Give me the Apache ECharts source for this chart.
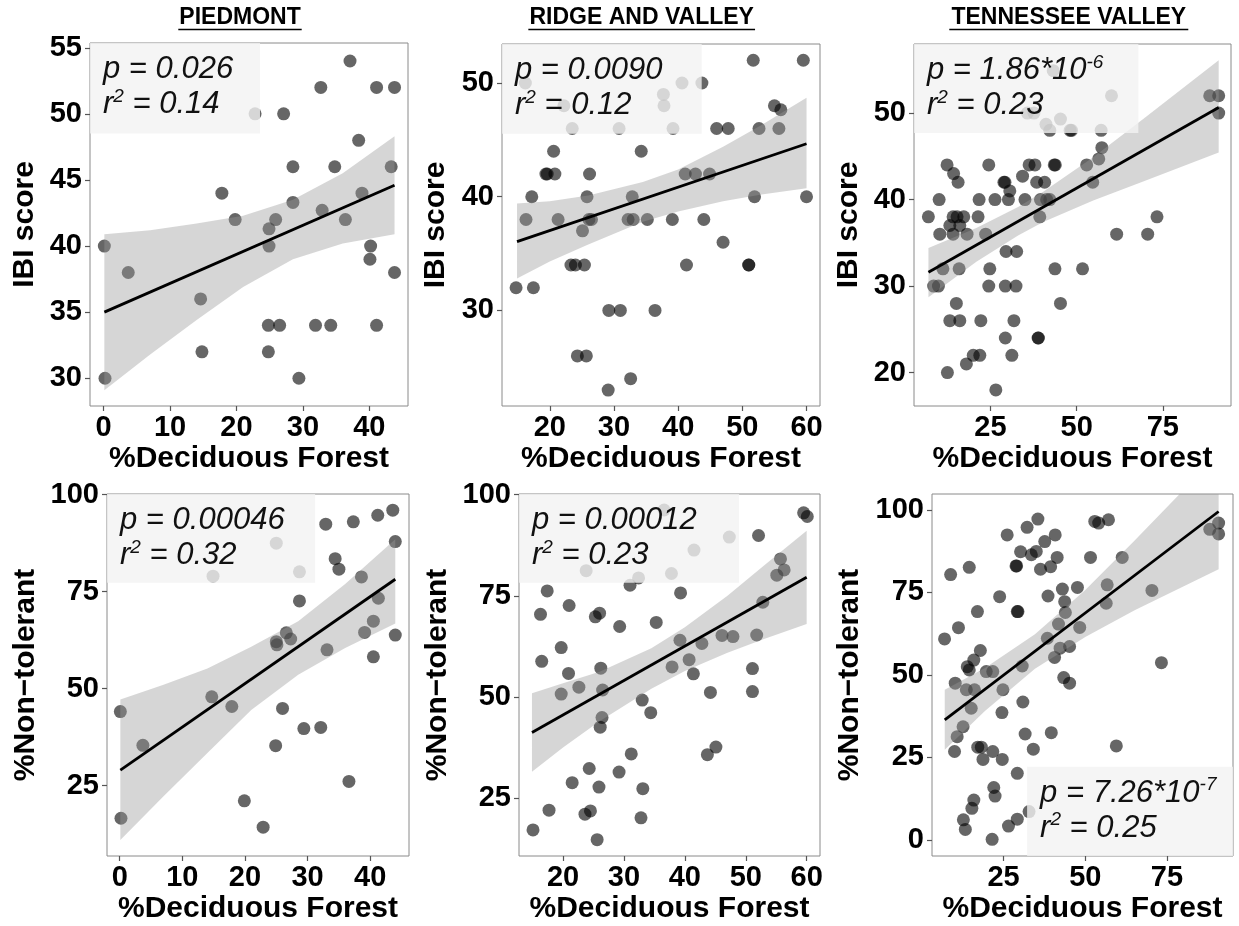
<!DOCTYPE html>
<html>
<head>
<meta charset="utf-8">
<script src="https://cdn.jsdelivr.net/npm/echarts@6/dist/echarts.min.js"></script>
<style>
  html, body { margin: 0; padding: 0; background: #fff; }
  #main { width: 1239px; height: 926px; }
</style>
</head>
<body>
<div id="main"></div>
<script>
// ---- data: [ %Deciduous Forest, response ] ----
var piedmontIbi = [[0.1,40],[0.2,30],[3.7,38],[14.6,36],[14.8,32],[17.8,44],[19.8,42],[22.8,50],[24.9,41.3],[24.9,40],
  [24.8,34],[24.8,32],[25.9,42],[26.5,34],[27.1,50],[28.5,46],[28.5,43.3],[29.4,30],[31.9,34],[32.7,52],[32.9,42.7],
  [34.2,34],[34.8,46],[36.4,42],[37.1,54],[38.4,48],[38.9,44],[40.2,40],[40.1,39],[41.1,52],[41.1,34],[43.3,46],
  [43.8,52],[43.8,38]];
var ridgeIbi = [[14.75,32],[16.2,50],[16.3,38],[17.2,40],[17.45,32],[19.4,42],[19.6,42],[20.8,42],[20.6,44],[21.3,38],
  [22.2,48],[23.5,46],[23.3,34],[24.0,34],[24.3,26],[25.1,37],[25.4,34],[25.7,26],[25.8,40],[26.1,38],[26.5,38],
  [26.2,42],[29.1,23],[29.2,30],[31.0,30],[30.8,46],[32.2,38],[32.6,24],[32.85,40],[33.0,38],[34.25,44],[35.2,38],
  [36.4,30],[37.7,49],[37.8,48],[39.1,38],[39.2,46],[40.6,50],[41.1,42],[41.3,34],[42.7,42],[43.7,50],[44.0,38],
  [44.9,42],[46.0,46],[47.0,36],[47.8,46],[51.0,34],[51.0,34],[51.7,52],[51.9,40],[52.6,46],[55.0,48],[55.7,46],
  [56.0,47.65],[59.5,52],[60.0,40]];
var tennIbi = [[6.98,38],[10.1,40],[12.4,44],[14.3,43],[15.6,42],[14.15,38],[15.3,38],[17.25,38],[13.2,37],[16.1,37],
  [10.3,36],[14.15,36],[18.2,36],[21.4,38],[21.7,40],[24.5,44],[23.6,36],[11.2,32],[15.9,32],[8.5,30],[9.9,30],
  [15.1,28],[13.2,26],[16.1,26],[22.2,26],[24.8,32],[24.5,30],[12.5,20],[18.0,21],[20.0,22],[21.9,22],[26.55,18],
  [26.3,40],[28.9,42],[29.2,42],[30.6,41],[30.2,40],[29.5,34],[32.6,34],[29.3,30],[32.4,30],[29.3,24],[31.8,26],
  [31.2,22],[34.3,42.7],[35.0,40],[36.2,44],[37.9,44],[38.4,42],[40.7,42],[39.3,38],[39.5,40],[41.3,40],[42.2,40],
  [43.5,44],[43.8,44],[43.7,32],[45.3,28],[38.8,24],[38.9,24],[43.2,54.9],[41.1,48.7],[42.2,48],[45.3,49.3],
  [48.1,48],[48.5,48],[35.7,50],[37.6,50],[51.7,32],[52.9,44],[54.65,42],[56.4,44.7],[57.3,46],[57.1,48],[60.1,52],
  [61.6,36],[70.6,36],[73.3,38],[88.6,52],[91.2,52],[91.2,50]];
var piedmontNt = [[0.1,44.1],[0.2,16.6],[3.7,35.4],[14.9,79.0],[14.7,47.9],[17.9,45.4],[19.9,21.1],[22.9,14.3],
  [25.0,87.5],[25.0,62.1],[25.1,61.3],[26.6,64.4],[27.3,62.8],[24.9,35.3],[26.0,44.9],[28.7,80.1],[28.7,72.6],
  [29.4,39.7],[32.1,40.0],[32.9,92.4],[33.1,60.0],[34.4,83.5],[35.0,80.8],[36.6,26.1],[37.3,93.0],[38.6,78.8],
  [39.1,64.5],[40.5,58.2],[40.5,67.4],[41.3,73.3],[41.2,94.7],[43.6,96.0],[44.0,87.9],[44.0,63.8]];
var ridgeNt = [[15.07,17.1],[16.3,70.4],[16.5,58.8],[17.4,76.2],[17.7,22.0],[19.7,62.2],[19.7,50.7],[20.9,55.8],
  [21.0,72.6],[21.5,28.8],[22.6,52.4],[23.8,81.2],[24.3,32.3],[23.6,21.0],[24.5,21.8],[25.3,69.8],[26.0,70.7],
  [25.6,14.7],[25.9,27.7],[26.2,57.1],[26.5,51.7],[26.4,44.9],[26.1,42.5],[29.3,67.4],[29.2,31.4],[31.0,77.6],
  [31.2,35.9],[32.4,79.4],[33.0,49.2],[33.1,27.3],[32.8,20.1],[34.4,46.1],[35.3,68.4],[36.6,96.2],[37.8,80.5],
  [37.9,57.4],[39.2,64.0],[39.3,75.7],[40.7,59.2],[41.4,55.7],[41.5,86.3],[42.8,63.2],[43.7,35.7],[44.2,51.1],
  [45.1,37.6],[46.1,65.2],[47.3,89.5],[47.9,64.9],[51.1,57.0],[51.1,51.3],[52.1,89.9],[51.8,65.3],[52.8,73.4],
  [55.1,80.1],[55.7,84.1],[56.3,81.4],[59.5,95.5],[60.1,94.6]];
var tennNt = [[6.94,60.9],[8.8,80.4],[11.2,64.3],[14.5,82.6],[10.2,47.5],[13.9,52.5],[15.9,54.5],[14.5,51.5],
  [17.9,57.4],[17.0,69.2],[13.6,45.5],[16.1,45.5],[15.1,39.9],[12.6,34.3],[10.8,31.3],[10.0,26.8],[17.1,28.1],
  [18.2,28.1],[18.7,24.4],[21.7,26.8],[24.6,24.4],[19.7,51.0],[21.7,51.0],[23.8,73.7],[24.8,45.5],[24.5,38.6],
  [29.2,20.2],[22.0,15.9],[22.4,13.3],[15.9,12.1],[15.3,9.6],[12.7,6.1],[13.3,3.2],[21.5,0.2],[26.5,4.2],[29.2,6.3],
  [32.8,8.6],[30.9,41.8],[31.6,32.1],[34.1,27.5],[39.6,32.5],[26.1,92.4],[32.2,94.7],[35.5,97.2],[30.2,87.3],
  [33.5,86.4],[35.0,87.4],[37.6,90.4],[40.8,92.4],[28.8,83.0],[29.0,83.0],[36.3,82.0],[39.4,82.8],[41.4,85.6],
  [29.2,69.2],[29.4,69.2],[38.6,73.9],[43.0,76.0],[43.7,72.2],[47.6,76.5],[43.9,68.9],[41.8,65.4],[38.4,61.1],
  [40.6,55.3],[42.3,58.1],[45.2,58.6],[43.4,49.2],[45.2,47.5],[48.3,64.4],[30.7,52.7],[51.6,85.6],[52.9,96.5],
  [54.1,96.0],[57.1,97.0],[56.7,77.3],[56.4,71.7],[61.3,85.6],[59.5,28.5],[70.4,75.6],[73.3,53.7],[88.1,94.1],
  [90.8,96.0],[90.8,92.7]];

// fitted lines (ends) and confidence bands [x, lower, upper]
var piedmontIbiFit = [[0.1,35.0],[43.8,44.6]];
var piedmontIbiBand = [[0.1,29.1,40.9],[7,31.8,41.2],[14,34.4,41.7],[21,36.9,42.3],[28.5,39.0,43.5],[36,40.2,45.5],[43.8,40.9,48.3]];
var ridgeIbiFit = [[14.9,36.05],[60,44.66]];
var ridgeIbiBand = [[14.9,32.8,39.4],[20,34.3,39.6],[26,35.8,40.1],[34.5,37.8,41.3],[40,38.7,42.4],[47,39.6,44.4],[53,40.2,46.3],[60,40.75,48.7]];
var tennIbiFit = [[7.0,31.6],[91.2,50.65]];
var tennIbiBand = [[7.0,28.7,34.4],[20.9,32.8,36.7],[33,35.85,39.15],[40.3,37.4,40.9],[54.8,39.9,44.9],[69.3,42.1,49.3],[91.2,45.45,56.1]];
var piedmontNtFit = [[0.1,29.0],[44.0,78.2]];
var piedmontNtBand = [[0.1,11.0,47.2],[7,22.3,51.0],[14,33.4,55.2],[21,44.5,60.8],[28.5,53.6,67.4],[36,60.5,77.0],[44,66.8,88.5]];
var ridgeNtFit = [[14.9,41.2],[60,79.6]];
var ridgeNtBand = [[14.9,31.5,50.9],[20,37.5,53.4],[26,44.0,56.2],[34.5,52.0,62.0],[40,56.4,67.2],[47,60.9,75.0],[53,64.3,82.5],[60,68.0,91.1]];
var tennNtFit = [[7.0,36.4],[90.8,99.5]];
var tennNtBand = [[7.0,27.3,45.5],[19.3,39.1,52.1],[34.6,51.9,62.3],[50,61.5,75.7],[65.1,69.6,90.7],[90.8,82.0,117]];

// tick labels
var piedmontXTicks = [0, 10, 20, 30, 40];
var ridgeXTicks = [20, 30, 40, 50, 60];
var tennXTicks = [25, 50, 75];
var piedmontIbiTicks = [30, 35, 40, 45, 50, 55];
var ridgeIbiTicks = [30, 40, 50];
var tennIbiTicks = [20, 30, 40, 50];
var ntTicksA = [25, 50, 75, 100];
var ntTicksB = [0, 25, 50, 75, 100];

var regionTitles = ['PIEDMONT', 'RIDGE AND VALLEY', 'TENNESSEE VALLEY'];
var statText = [
  ['p = 0.026', '0.14'], ['p = 0.0090', '0.12'], ['p = 1.86*10', '0.23', '-6'],
  ['p = 0.00046', '0.32'], ['p = 0.00012', '0.23'], ['p = 7.26*10', '0.25', '-7']
];

var FONT = '"Liberation Sans", Arial, Helvetica, sans-serif';

var panels = [
  { grid: {left: 90, top: 43, width: 318, height: 363}, x: [-2.06, 45.83], y: [27.9, 55.36],
    xt: piedmontXTicks, yt: piedmontIbiTicks, yName: 'IBI score', yGap: 50,
    pts: piedmontIbi, fit: piedmontIbiFit, band: piedmontIbiBand, box: [-2.06, 48.52, 23.54, 55.36] },
  { grid: {left: 502, top: 44, width: 318, height: 362}, x: [12.56, 62.1], y: [21.6, 53.43],
    xt: ridgeXTicks, yt: ridgeIbiTicks, yName: 'IBI score', yGap: 51,
    pts: ridgeIbi, fit: ridgeIbiFit, band: ridgeIbiBand, box: [12.56, 45.54, 43.67, 53.43] },
  { grid: {left: 914, top: 44, width: 317, height: 362}, x: [2.81, 94.77], y: [16.14, 57.98],
    xt: tennXTicks, yt: tennIbiTicks, yName: 'IBI score', yGap: 50,
    pts: tennIbi, fit: tennIbiFit, band: tennIbiBand, box: [2.81, 47.7, 67.9, 57.98] },
  { grid: {left: 107, top: 494, width: 302, height: 362}, x: [-2.03, 46.19], y: [6.87, 100.17],
    xt: piedmontXTicks, yt: ntTicksA, yName: '%Non\u2212tolerant', yGap: 66,
    pts: piedmontNt, fit: piedmontNtFit, band: piedmontNtBand, box: [-2.03, 77.3, 31.2, 100.17] },
  { grid: {left: 519, top: 494, width: 301, height: 362}, x: [12.77, 62.19], y: [10.66, 100.16],
    xt: ridgeXTicks, yt: ntTicksA, yName: '%Non\u2212tolerant', yGap: 66,
    pts: ridgeNt, fit: ridgeNtFit, band: ridgeNtBand, box: [12.77, 78.2, 48.9, 100.16] },
  { grid: {left: 932, top: 494, width: 301, height: 362}, x: [3.1, 95.2], y: [-4.85, 104.8],
    xt: tennXTicks, yt: ntTicksB, yName: '%Non\u2212tolerant', yGap: 67,
    pts: tennNt, fit: tennNtFit, band: tennNtBand, box: [32.2, -4.85, 95.2, 22.2] }
];

var grids = [], xAxes = [], yAxes = [], series = [];

panels.forEach(function (p, i) {
  grids.push(Object.assign({ show: true, borderColor: '#8a8a8a', borderWidth: 1, backgroundColor: '#fff' }, p.grid));

  xAxes.push({
    gridIndex: i, type: 'value', min: p.x[0], max: p.x[1],
    name: '%Deciduous Forest', nameLocation: 'middle', nameGap: 38,
    nameTextStyle: { fontFamily: FONT, fontWeight: 'bold', fontSize: 30, color: '#000' },
    axisLine: { show: false, onZero: false },
    splitLine: { show: false },
    axisTick: { show: true, length: 5, lineStyle: { color: '#555', width: 1.2 }, customValues: p.xt },
    axisLabel: { customValues: p.xt, fontFamily: FONT, fontWeight: 'bold', fontSize: 29, color: '#000', margin: 7 }
  });
  yAxes.push({
    gridIndex: i, type: 'value', min: p.y[0], max: p.y[1],
    name: p.yName, nameLocation: 'middle', nameGap: p.yGap,
    nameTextStyle: { fontFamily: FONT, fontWeight: 'bold', fontSize: 30, color: '#000' },
    axisLine: { show: false, onZero: false },
    splitLine: { show: false },
    axisTick: { show: true, length: 5, lineStyle: { color: '#555', width: 1.2 }, customValues: p.yt },
    axisLabel: { customValues: p.yt, fontFamily: FONT, fontWeight: 'bold', fontSize: 29, color: '#000', margin: 8 }
  });

  // points
  series.push({
    type: 'scatter', xAxisIndex: i, yAxisIndex: i, data: p.pts, symbolSize: 13, z: 2, silent: true,
    itemStyle: { color: 'rgba(0,0,0,0.75)' }
  });

  // confidence band, drawn over the points
  var band = p.band;
  series.push({
    type: 'custom', xAxisIndex: i, yAxisIndex: i, data: band, z: 3, silent: true, clip: true,
    encode: { x: 0, y: [1, 2] },
    renderItem: function (params, api) {
      if (params.dataIndex !== 0) return;
      var up = band.map(function (d) { return api.coord([d[0], d[2]]); });
      var lo = band.map(function (d) { return api.coord([d[0], d[1]]); }).reverse();
      return { type: 'polygon', shape: { points: up.concat(lo) }, style: { fill: 'rgba(153,153,153,0.4)' } };
    }
  });

  // fitted line
  series.push({
    type: 'line', xAxisIndex: i, yAxisIndex: i, data: p.fit, symbol: 'none', z: 4, silent: true,
    lineStyle: { color: '#000', width: 2.8 }
  });

  // stats box
  var st = statText[i];
  var first = st[2] ? '{a|' + st[0] + '}{s|' + st[2] + '}' : '{a|' + st[0] + '}';
  series.push({
    type: 'line', xAxisIndex: i, yAxisIndex: i, data: [], silent: true,
    markArea: {
      z: 10, silent: true,
      itemStyle: { color: 'rgba(242,242,242,0.8)', borderWidth: 0 },
      label: {
        show: true, position: 'insideTopLeft', distance: 0, offset: [13, 9],
        formatter: first + '\n{a|r}{s|2}{a| = ' + st[1] + '}',
        rich: {
          a: { fontFamily: FONT, fontStyle: 'italic', fontSize: 31, color: '#111', lineHeight: 35 },
          s: { fontFamily: FONT, fontStyle: 'italic', fontSize: 19, color: '#111', lineHeight: 35, verticalAlign: 'top' }
        }
      },
      data: [[{ coord: [p.box[0], p.box[1]] }, { coord: [p.box[2], p.box[3]] }]]
    }
  });
});

var titleX = [240, 641.7, 1068.8];
var titleW = [123.4, 226.7, 239];
var graphics = [];
regionTitles.forEach(function (t, i) {
  graphics.push({
    type: 'text', x: titleX[i], y: 18,
    style: { text: t, font: 'bold 23px ' + FONT, fill: '#000', align: 'center', verticalAlign: 'middle' }
  });
  graphics.push({
    type: 'line',
    shape: { x1: titleX[i] - titleW[i] / 2, y1: 29.5, x2: titleX[i] + titleW[i] / 2, y2: 29.5 },
    style: { stroke: '#000', lineWidth: 1.6 }
  });
});

var chart = echarts.init(document.getElementById('main'), null, { renderer: 'canvas' });
chart.setOption({
  backgroundColor: '#fff',
  animation: false,
  grid: grids,
  xAxis: xAxes,
  yAxis: yAxes,
  series: series,
  graphic: graphics
});
</script>
</body>
</html>
